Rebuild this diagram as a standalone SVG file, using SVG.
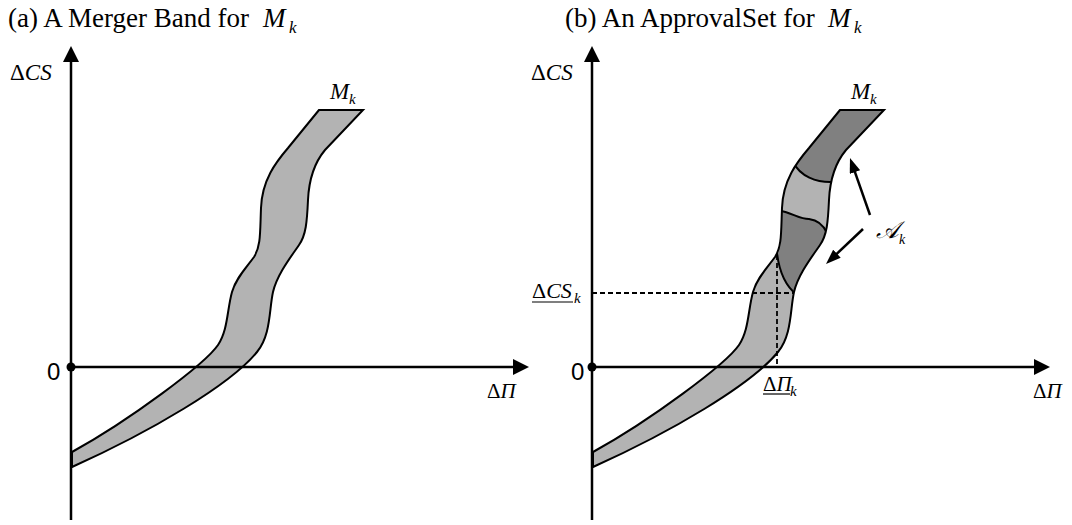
<svg xmlns="http://www.w3.org/2000/svg" xmlns:xlink="http://www.w3.org/1999/xlink" width="1072" height="525" viewBox="0 0 1072 525">
<style>
.serif{font-family:"Liberation Serif","Times New Roman",serif;fill:#000}
.it{font-style:italic}
.sans{font-family:"Liberation Sans",Arial,sans-serif;fill:#000}
.axis{stroke:#000;stroke-width:2.5;fill:none}
.band{fill:#b3b3b3;stroke:none}
.outline{fill:none;stroke:#000;stroke-width:2}
.dark{fill:#808080}
.div{fill:none;stroke:#000;stroke-width:2}
.dash{fill:none;stroke:#000;stroke-width:1.8;stroke-dasharray:5,3}
.ptr{stroke:#000;stroke-width:2.5;fill:none}
</style>
<defs>
<marker id="axhead" viewBox="0 0 16 16" refX="6" refY="8" markerWidth="16" markerHeight="16" markerUnits="userSpaceOnUse" orient="auto"><path d="M0,0 L16,8 L0,16 Z" fill="#000"/></marker>
<marker id="ptrhead" viewBox="0 0 15 11" refX="5" refY="5.5" markerWidth="15" markerHeight="11" markerUnits="userSpaceOnUse" orient="auto"><path d="M0,0 L15,5.5 L0,11 Z" fill="#000"/></marker>
<path id="bandPath" d="M319,110 L288,148 C276,162 262,180 261,208 C260,232 261,246 254,257 C246,268 236,278 232,292 C227,310 228,330 218,345 C205,364 130,420 72,452 L72,467 C150,432 230,385 257,352 C271,335 269,310 273,292 C277,275 290,258 299,245 C306,235 307,222 308,200 C309,178 315,162 325,150 L363,110 Z"/>
<clipPath id="bandClip"><use xlink:href="#bandPath"/></clipPath>
</defs>

<g id="panel-a">
  <text class="serif" x="8" y="27" font-size="27">(a) A Merger Band for</text>
  <text class="serif it" x="263" y="27" font-size="27">M</text>
  <text class="serif it" x="289" y="33" font-size="17">k</text>
  <g id="band-a">
    <use xlink:href="#bandPath" class="band"/>
    <use xlink:href="#bandPath" class="outline"/>
  </g>
  <g id="axes-a">
    <line class="axis" x1="71" y1="520" x2="71" y2="56" marker-end="url(#axhead)"/>
    <line class="axis" x1="71" y1="367" x2="519" y2="367" marker-end="url(#axhead)"/>
    <circle cx="71" cy="367" r="4.5" fill="#000"/>
  </g>
  <text class="serif" x="10" y="80" font-size="23">Δ<tspan class="it">CS</tspan></text>
  <text class="sans" x="47" y="380" font-size="24">0</text>
  <text class="serif" x="487" y="398" font-size="21">Δ<tspan class="it">Π</tspan></text>
  <text class="serif it" x="330" y="99" font-size="23">M</text>
  <text class="serif it" x="349" y="104" font-size="15">k</text>
</g>

<g id="panel-b">
  <text class="serif" x="565" y="27" font-size="27">(b) An ApprovalSet for</text>
  <text class="serif it" x="828" y="27" font-size="27">M</text>
  <text class="serif it" x="854" y="33" font-size="17">k</text>
  <g id="band-b" transform="translate(521,0)">
    <use xlink:href="#bandPath" class="band"/>
    <g clip-path="url(#bandClip)">
      <path id="approval-top" class="dark" d="M272,162 C279,176 295,183 313,182 L420,182 L420,95 L272,95 Z"/>
      <path id="approval-mid" class="dark" d="M245,210.5 L258,210.5 C272,213 278,219 288,219 C296,220 302,224 306,233 L330,233 L330,295 L276,295 C263,285 258,270 256,253 L245,253 Z"/>
      <path class="div" d="M272,162 C279,176 295,183 313,182"/>
      <path class="div" d="M258,210.5 C272,213 278,219 288,219 C296,220 302,224 306,233"/>
      <path class="div" d="M256,253 C258,270 263,285 276,295"/>
    </g>
    <line class="dash" x1="71" y1="293" x2="273" y2="293"/>
    <line class="dash" x1="256" y1="255" x2="256" y2="367"/>
    <use xlink:href="#bandPath" class="outline"/>
  </g>
  <g id="axes-b">
    <line class="axis" x1="592" y1="520" x2="592" y2="56" marker-end="url(#axhead)"/>
    <line class="axis" x1="592" y1="367" x2="1040" y2="367" marker-end="url(#axhead)"/>
    <circle cx="592" cy="367" r="4.5" fill="#000"/>
  </g>
  <text class="serif" x="531" y="80" font-size="23">Δ<tspan class="it">CS</tspan></text>
  <text class="sans" x="571" y="380" font-size="24">0</text>
  <text class="serif" x="1033" y="398" font-size="21">Δ<tspan class="it">Π</tspan></text>
  <text class="serif it" x="851" y="99" font-size="23">M</text>
  <text class="serif it" x="870" y="104" font-size="15">k</text>
  <g id="label-cs-k">
    <text class="serif" x="532" y="298" font-size="22">Δ<tspan class="it">CS</tspan></text>
    <text class="serif it" x="574" y="303" font-size="15">k</text>
    <line x1="532" y1="302" x2="573" y2="302" stroke="#000" stroke-width="1.2"/>
  </g>
  <g id="label-pi-k">
    <text class="serif" x="763" y="391" font-size="21">Δ<tspan class="it">Π</tspan></text>
    <text class="serif it" x="790" y="396" font-size="15">k</text>
    <line x1="763" y1="394" x2="790" y2="394" stroke="#000" stroke-width="1.2"/>
  </g>
  <g id="label-A-k">
    <text class="serif it" x="876" y="238" font-size="24">𝒜</text>
    <text class="serif it" x="899" y="244" font-size="14">k</text>
  </g>
  <g id="connectors">
    <line class="ptr" x1="870" y1="215" x2="853.3" y2="167.4" marker-end="url(#ptrhead)"/>
    <line class="ptr" x1="863" y1="229" x2="833.3" y2="257.1" marker-end="url(#ptrhead)"/>
  </g>
</g>
</svg>
